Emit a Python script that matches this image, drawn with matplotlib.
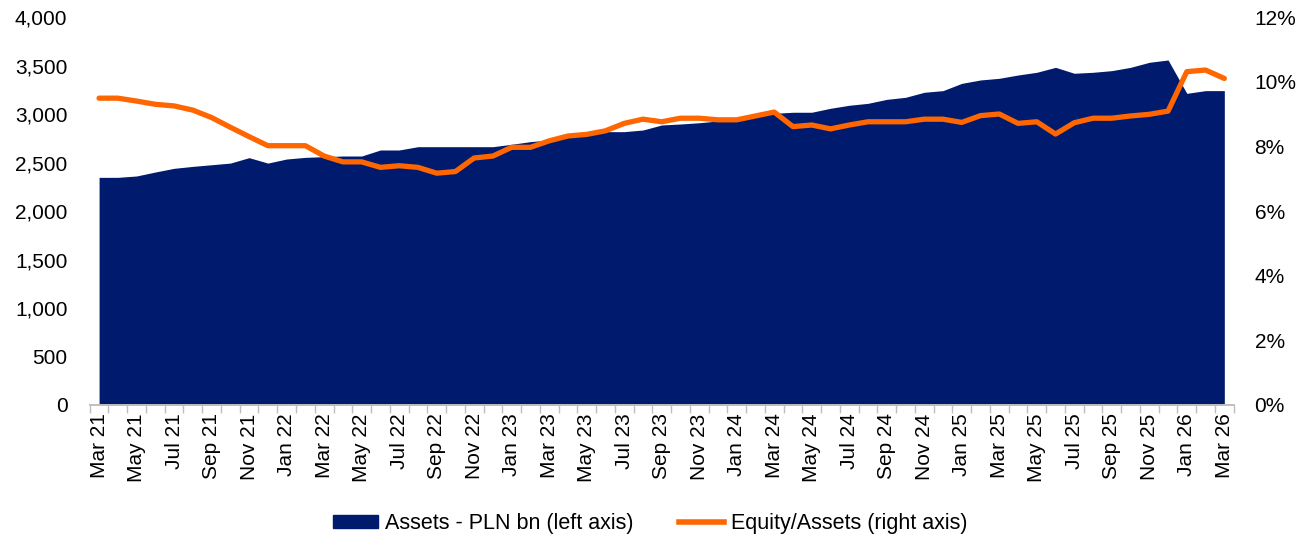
import numpy as np
import matplotlib
matplotlib.use("Agg")
from matplotlib import pyplot as plt
from matplotlib.patches import Patch
from matplotlib.lines import Line2D
from matplotlib.ticker import FuncFormatter, FixedLocator

# ---- DATA ----
months = [f"{m} {y}" for y in range(21, 27)
          for m in ["Jan", "Feb", "Mar", "Apr", "May", "Jun",
                    "Jul", "Aug", "Sep", "Oct", "Nov", "Dec"]][2:63]

# Assets - PLN bn (left axis)
assets = [2347, 2347, 2361, 2402, 2440, 2460, 2477, 2494, 2550, 2494,
          2536, 2553, 2560, 2567, 2567, 2629, 2629, 2663, 2663, 2663,
          2663, 2663, 2688, 2715, 2732, 2760, 2784, 2818, 2818, 2835,
          2887, 2897, 2910, 2928, 2945, 2990, 3007, 3018, 3018, 3059,
          3090, 3110, 3151, 3172, 3224, 3241, 3316, 3351, 3368, 3402,
          3430, 3481, 3420, 3430, 3447, 3481, 3533, 3557, 3213, 3241,
          3241]

# Equity/Assets in % (right axis)
equity_ratio = [9.49, 9.49, 9.40, 9.30, 9.25, 9.12, 8.89, 8.59, 8.30, 8.02,
                8.02, 8.02, 7.70, 7.52, 7.52, 7.35, 7.40, 7.35, 7.17, 7.22,
                7.64, 7.70, 7.97, 7.97, 8.17, 8.32, 8.37, 8.48, 8.71, 8.84,
                8.76, 8.87, 8.87, 8.82, 8.82, 8.94, 9.06, 8.61, 8.66, 8.54,
                8.66, 8.76, 8.76, 8.76, 8.84, 8.84, 8.74, 8.95, 9.00, 8.71,
                8.76, 8.38, 8.73, 8.87, 8.87, 8.94, 8.99, 9.09, 10.31, 10.36,
                10.10]

NAVY = "#001A6E"
ORANGE = "#FF6600"
GREY = "#BFBFBF"

plt.rcParams["font.family"] = ["Liberation Sans", "DejaVu Sans"]
plt.rcParams["font.size"] = 15

# ---- PLOT ----
fig = plt.figure(figsize=(13, 5.4), dpi=100)
ax = fig.add_axes([0.069, 0.25, 0.88, 0.7185])
ax2 = ax.twinx()

x = np.arange(len(months))
ax.fill_between(x, 0, assets, color=NAVY, linewidth=0, zorder=1)
ax2.plot(x, equity_ratio, color=ORANGE, lw=3.8, solid_capstyle="round",
         solid_joinstyle="round", zorder=3)

ax.set_xlim(-0.5, len(months) - 0.5)
ax.set_ylim(0, 4000)
ax.set_yticks(np.arange(0, 4001, 500))
ax.yaxis.set_major_formatter(FuncFormatter(lambda v, p: f"{v:,.0f}"))
ax2.set_ylim(0, 12)
ax2.set_yticks(np.arange(0, 12.1, 2))
ax2.yaxis.set_major_formatter(FuncFormatter(lambda v, p: f"{v:.0f}%"))

# labels every second month, ticks on category boundaries
ax.set_xticks(x[::2])
ax.set_xticklabels(months[::2], rotation=90)
ax.tick_params(axis="x", which="major", length=0, pad=6)
ax.xaxis.set_minor_locator(FixedLocator(np.arange(-0.5, len(months), 1)))
ax.tick_params(axis="x", which="minor", length=6, color=GREY, width=1)

for a in (ax, ax2):
    for s in ["top", "left", "right"]:
        a.spines[s].set_visible(False)
    a.spines["bottom"].set_color(GREY)
    a.spines["bottom"].set_linewidth(1.2)
ax.tick_params(axis="y", length=0, pad=16)
ax2.tick_params(axis="y", length=0, pad=15)

handles = [Patch(facecolor=NAVY, edgecolor=NAVY, label="Assets - PLN bn (left axis)"),
           Line2D([], [], color=ORANGE, lw=4, label="Equity/Assets (right axis)")]
fig.legend(handles=handles, loc="lower center", bbox_to_anchor=(0.5, -0.025),
           ncol=2, frameon=False, fontsize=15.5, handlelength=2.1,
           handleheight=0.6, columnspacing=2.1, handletextpad=0.33)

fig.savefig("out.png", dpi=100)
